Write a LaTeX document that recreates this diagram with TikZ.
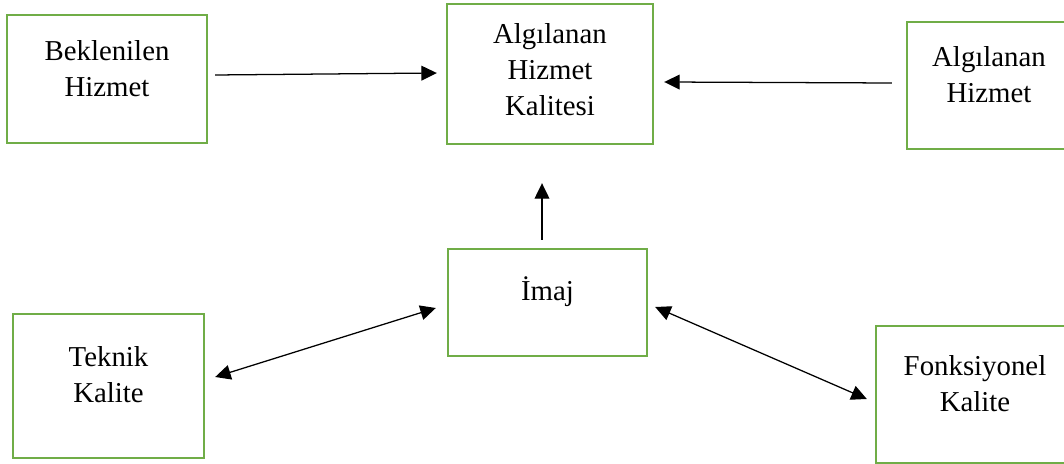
\documentclass[tikz,border=0pt]{standalone}
\usepackage{fontspec}
\setmainfont{Liberation Serif}
\usetikzlibrary{arrows.meta}
\definecolor{boxgreen}{HTML}{70AD47}
\def\pxu{0.025cm}

\begin{document}
\begin{tikzpicture}[x=0.025cm, y=-0.025cm,
  box/.style={rectangle, draw=boxgreen, line width=1.7pt, fill=white, inner sep=0pt},
  txt/.style={align=center, inner sep=0pt, font=\fontsize{20.5}{25.5}\selectfont},
  arr/.style={line width=0.9pt, -{Triangle[length=11pt, width=10.5pt]}},
  darr/.style={line width=0.9pt, {Triangle[length=11pt, width=10.5pt]}-{Triangle[length=11pt, width=10.5pt]}}]

\useasboundingbox (0,0) rectangle (1064,464);

\node [box, minimum width=200*\pxu, minimum height=128*\pxu] (bek) at (107,79) {};
\node [box, minimum width=206*\pxu, minimum height=140*\pxu] (apk) at (550,74) {};
\node [box, minimum width=200*\pxu, minimum height=127*\pxu] (ah) at (1007,85.5) {};
\node [box, minimum width=199*\pxu, minimum height=107*\pxu] (imaj) at (547.5,302.5) {};
\node [box, minimum width=191*\pxu, minimum height=144*\pxu] (tek) at (108.5,386) {};
\node [box, minimum width=200*\pxu, minimum height=137*\pxu] (fonk) at (976,394.5) {};

\node [txt] (bekt) at (107,68.5) {Beklenilen\\Hizmet};
\node [txt] (apkt) at (550,70) {Algılanan\\Hizmet\\Kalitesi};
\node [txt] (aht) at (989,74.5) {Algılanan\\Hizmet};
\node [txt] (imajt) at (547.5,292) {İmaj};
\node [txt] (tekt) at (108.5,375) {Teknik\\Kalite};
\node [txt] (fonkt) at (975,384) {Fonksiyonel\\Kalite};

\draw [arr] ([xshift=7*\pxu, yshift=4*\pxu]bek.east) -- ([xshift=-9*\pxu, yshift=1*\pxu]apk.west);
\draw [arr] ([xshift=-14*\pxu, yshift=2.5*\pxu]ah.west) -- ([xshift=10*\pxu, yshift=-8*\pxu]apk.east);
\draw [arr] ([xshift=-5.5*\pxu, yshift=8*\pxu]imaj.north) -- ([xshift=-8*\pxu, yshift=-38*\pxu]apk.south);
\draw [darr] ([xshift=10*\pxu, yshift=9*\pxu]tek.east) -- ([xshift=-11*\pxu, yshift=-5.5*\pxu]imaj.west);
\draw [darr] ([xshift=7*\pxu, yshift=-4.5*\pxu]imaj.east) -- ([xshift=-8*\pxu, yshift=-4.5*\pxu]fonk.west);
\end{tikzpicture}
\end{document}
